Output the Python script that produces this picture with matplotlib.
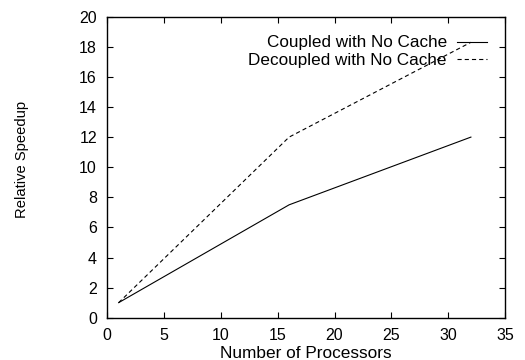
import matplotlib
matplotlib.use("Agg")
import matplotlib.pyplot as plt

# Relative speedup vs. processor count
processors = [1, 16, 32]
coupled_no_cache = [1.0, 7.5, 12.0]
decoupled_no_cache = [1.0, 12.0, 18.3]
series_labels = ["Coupled with No Cache", "Decoupled with No Cache"]
x_ticks = [0, 5, 10, 15, 20, 25, 30, 35]
y_ticks = [0, 2, 4, 6, 8, 10, 12, 14, 16, 18, 20]

plt.rcParams["font.family"] = ["Liberation Sans", "DejaVu Sans"]
plt.rcParams["lines.scale_dashes"] = False

fig = plt.figure(figsize=(5.25, 3.6), dpi=100)
ax = fig.add_axes([107.3 / 525, 1 - 317.7 / 360, (505 - 107.3) / 525, (317.7 - 16.7) / 360])

ax.plot(processors, coupled_no_cache, color="black", lw=0.8, label=series_labels[0])
ax.plot(processors, decoupled_no_cache, color="black", lw=0.8,
        dashes=(3.0, 2.2), label=series_labels[1])

ax.set_xlim(0, 35)
ax.set_ylim(0, 20)
ax.set_xticks(x_ticks)
ax.set_yticks(y_ticks)
ax.tick_params(direction="in", length=4.5, width=0.8, top=True, right=True,
               labelsize=11.5, pad=7.5)
for s in ax.spines.values():
    s.set_linewidth(1.0)

ax.set_xlabel("Number of Processors", fontsize=12.4, labelpad=1.8)
ax.set_ylabel("Relative Speedup", fontsize=10.6)
ax.yaxis.set_label_coords(-0.198, 0.525)

leg = ax.legend(loc="upper right", bbox_to_anchor=(487 / 525, 1 - 35.5 / 360),
                bbox_transform=fig.transFigure, frameon=False, markerfirst=False,
                fontsize=12.3, handlelength=1.75, handletextpad=0.6,
                labelspacing=0.12, borderpad=0, borderaxespad=0)

fig.savefig("out.png", dpi=100)
